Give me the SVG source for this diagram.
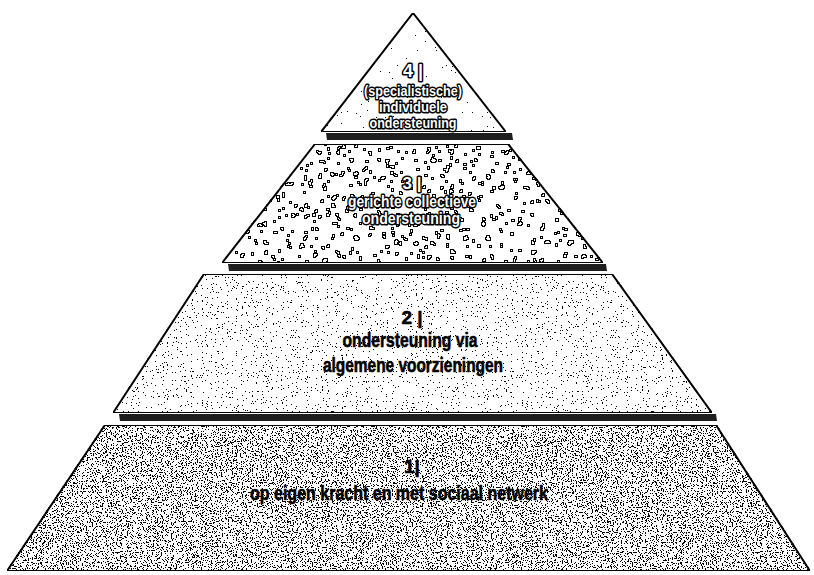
<svg xmlns="http://www.w3.org/2000/svg" width="814" height="575" viewBox="0 0 814 575">
<defs>
<style>
.layer{stroke:#000;stroke-width:2;stroke-linejoin:miter;fill:#fff}
.band{fill:#1e1e1e;stroke:none}
.lbl{font-family:"Liberation Sans",Arial,sans-serif;font-weight:700;text-anchor:middle;fill:#000;stroke:#000;stroke-width:0.6;stroke-linejoin:round}
.out{font-family:"Liberation Sans",Arial,sans-serif;font-weight:700;text-anchor:middle;fill:#fff;stroke:#000;stroke-width:3;paint-order:stroke;stroke-linejoin:round}
</style>
<filter id="st1" x="0" y="0" width="1" height="1" color-interpolation-filters="sRGB">
<feTurbulence type="fractalNoise" baseFrequency="0.8" numOctaves="2" seed="4" result="n"/>
<feColorMatrix in="n" type="matrix" values="0 0 0 0 0  0 0 0 0 0  0 0 0 0 0  5 0 0 0 -2.45" result="m"/>
<feComponentTransfer in="m" result="d"><feFuncA type="discrete" tableValues="0 0 1 1"/></feComponentTransfer>
<feComposite in="d" in2="SourceAlpha" operator="in" result="c"/>
<feMerge><feMergeNode in="SourceGraphic"/><feMergeNode in="c"/></feMerge>
</filter>
<filter id="st2" x="0" y="0" width="1" height="1" color-interpolation-filters="sRGB">
<feTurbulence type="fractalNoise" baseFrequency="0.8" numOctaves="2" seed="9" result="n"/>
<feColorMatrix in="n" type="matrix" values="0 0 0 0 0  0 0 0 0 0  0 0 0 0 0  5 0 0 0 -3.0" result="m"/>
<feComponentTransfer in="m" result="d"><feFuncA type="discrete" tableValues="0 0 1 1"/></feComponentTransfer>
<feComposite in="d" in2="SourceAlpha" operator="in" result="c"/>
<feMerge><feMergeNode in="SourceGraphic"/><feMergeNode in="c"/></feMerge>
</filter>
<filter id="st3" x="0" y="0" width="1" height="1" color-interpolation-filters="sRGB">
<feTurbulence type="fractalNoise" baseFrequency="0.22" numOctaves="2" seed="7" result="n"/>
<feColorMatrix in="n" type="matrix" values="0 0 0 0 0  0 0 0 0 0  0 0 0 0 0  5 0 0 0 -3.05" result="m"/>
<feComponentTransfer in="m" result="b"><feFuncA type="discrete" tableValues="0 0 1 1"/></feComponentTransfer>
<feMorphology in="b" operator="dilate" radius="1" result="bd"/>
<feComposite in="bd" in2="b" operator="out" result="ring"/>
<feComposite in="ring" in2="SourceAlpha" operator="in" result="c"/>
<feMerge><feMergeNode in="SourceGraphic"/><feMergeNode in="c"/></feMerge>
</filter>
<filter id="st4" x="0" y="0" width="1" height="1" color-interpolation-filters="sRGB">
<feTurbulence type="fractalNoise" baseFrequency="0.8" numOctaves="2" seed="12" result="n"/>
<feColorMatrix in="n" type="matrix" values="0 0 0 0 0  0 0 0 0 0  0 0 0 0 0  5 0 0 0 -3.4" result="m"/>
<feComponentTransfer in="m" result="d"><feFuncA type="discrete" tableValues="0 0 1 1"/></feComponentTransfer>
<feComposite in="d" in2="SourceAlpha" operator="in" result="c"/>
<feMerge><feMergeNode in="SourceGraphic"/><feMergeNode in="c"/></feMerge>
</filter>
</defs>
<rect width="814" height="575" fill="#fff"/>

<g id="layer4">
<polygon class="layer" points="413,13 506,132 321,132" filter="url(#st4)"/>
<polygon class="band" points="326,133 512,133 513,140 327,140"/>
<text class="out" x="413" y="77" font-size="18">4 |</text>
<text class="out" x="413" y="96" font-size="14.5" textLength="98" lengthAdjust="spacingAndGlyphs">(specialistische)</text>
<text class="out" x="413" y="112" font-size="14.5" textLength="68" lengthAdjust="spacingAndGlyphs">individuele</text>
<text class="out" x="413" y="128" font-size="14.5" textLength="87" lengthAdjust="spacingAndGlyphs">ondersteuning</text>
</g>

<g id="layer3">
<polygon class="layer" points="315,144 508,144 603,263 222,263" filter="url(#st3)"/>
<polygon class="band" points="228,264 606,264 607,271 229,271"/>
<text class="out" x="412" y="189" font-size="17">3 |</text>
<text class="out" x="412" y="207" font-size="16" textLength="128" lengthAdjust="spacingAndGlyphs">gerichte collectieve</text>
<text class="out" x="411" y="224" font-size="16" textLength="98" lengthAdjust="spacingAndGlyphs">ondersteuning</text>
</g>

<g id="layer2">
<polygon class="layer" points="204,274 612,274 712,413 113,413" filter="url(#st2)"/>
<polygon class="band" points="119,414 716,414 717,421 120,421"/>
<text class="lbl" x="412" y="324" font-size="19">2 |</text>
<text class="lbl" x="410" y="347" font-size="20" textLength="135" lengthAdjust="spacingAndGlyphs">ondersteuning via</text>
<text class="lbl" x="413" y="372" font-size="20" textLength="180" lengthAdjust="spacingAndGlyphs">algemene voorzieningen</text>
</g>

<g id="layer1">
<polygon class="layer" points="105,425 716,425 810,571 7,571" filter="url(#st1)"/>
<text class="lbl" x="412" y="473" font-size="19">1|</text>
<text class="lbl" x="399" y="500" font-size="20" textLength="298" lengthAdjust="spacingAndGlyphs">op eigen kracht en met sociaal netwerk</text>
</g>
</svg>
